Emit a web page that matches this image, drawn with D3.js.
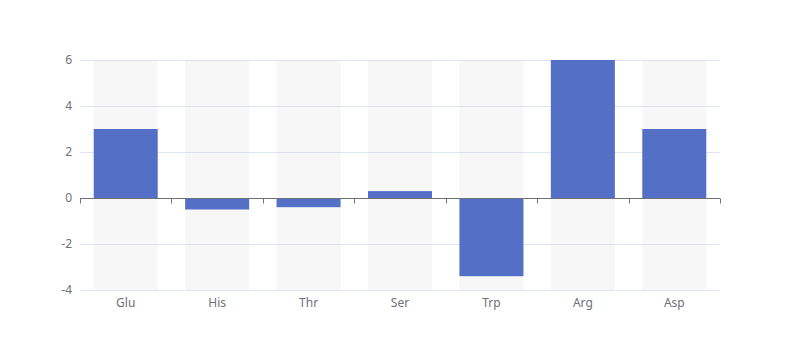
<!DOCTYPE html>
<html><head><meta charset="utf-8">
<script src="https://cdn.jsdelivr.net/npm/d3@7"></script>
<style>body{margin:0;background:#fff}svg{display:block}</style>
</head><body><svg id="c" width="800" height="360"></svg>
<script>
const categories = ["Glu","His","Thr","Ser","Trp","Arg","Asp"];
const values = [3, -0.5, -0.4, 0.3, -3.4, 6, 3];
const yTicks = [-4,-2,0,2,4,6];

const svg = d3.select("#c");
const m = {left:80, right:720, top:60, bottom:290};
const x = d3.scaleBand().domain(categories).range([m.left,m.right]).paddingInner(0.3).paddingOuter(0.15);
const y = d3.scaleLinear().domain([-4,6]).range([m.bottom,m.top]);
const font = "'Microsoft YaHei', 'Noto Sans', sans-serif";

// grid lines
svg.append("g").selectAll("line").data(yTicks).join("line")
  .attr("x1",m.left).attr("x2",m.right)
  .attr("y1",d=>Math.round(y(d))+0.5).attr("y2",d=>Math.round(y(d))+0.5)
  .attr("stroke","#E0E6F1");

// backgrounds
svg.append("g").selectAll("rect").data(categories).join("rect")
  .attr("x",d=>x(d)).attr("width",x.bandwidth())
  .attr("y",m.top).attr("height",m.bottom-m.top)
  .attr("fill","rgba(180,180,180,0.11)");

// bars
svg.append("g").selectAll("rect").data(values).join("rect")
  .attr("x",(d,i)=>x(categories[i])).attr("width",x.bandwidth())
  .attr("y",d=>y(Math.max(0,d))).attr("height",d=>Math.abs(y(d)-y(0)))
  .attr("fill","#5470c6");

// x axis at zero
const xAxis = d3.axisBottom(x).tickSize(0).tickPadding(0);
const zeroY = Math.round(y(0))+0.5;
svg.append("line").attr("x1",m.left).attr("x2",m.right).attr("y1",zeroY).attr("y2",zeroY)
  .attr("stroke","#6E7079");
const step = x.step();
const bounds = d3.range(categories.length+1).map(i=>m.left + (m.right-m.left)*i/categories.length);
svg.append("g").selectAll("line").data(bounds).join("line")
  .attr("x1",d=>Math.round(d)+0.5).attr("x2",d=>Math.round(d)+0.5)
  .attr("y1",zeroY).attr("y2",zeroY+5).attr("stroke","#6E7079");

// x labels (bottom)
svg.append("g").selectAll("text").data(categories).join("text")
  .attr("x",d=>x(d)+x.bandwidth()/2).attr("y",m.bottom+17)
  .attr("text-anchor","middle").attr("font-size",12).attr("font-family",font)
  .attr("fill","#6E7079").text(d=>d);

// y labels
svg.append("g").selectAll("text").data(yTicks).join("text")
  .attr("x",m.left-8).attr("y",d=>y(d)+4)
  .attr("text-anchor","end").attr("font-size",12).attr("font-family",font)
  .attr("fill","#6E7079").text(d=>d);
</script></body></html>
